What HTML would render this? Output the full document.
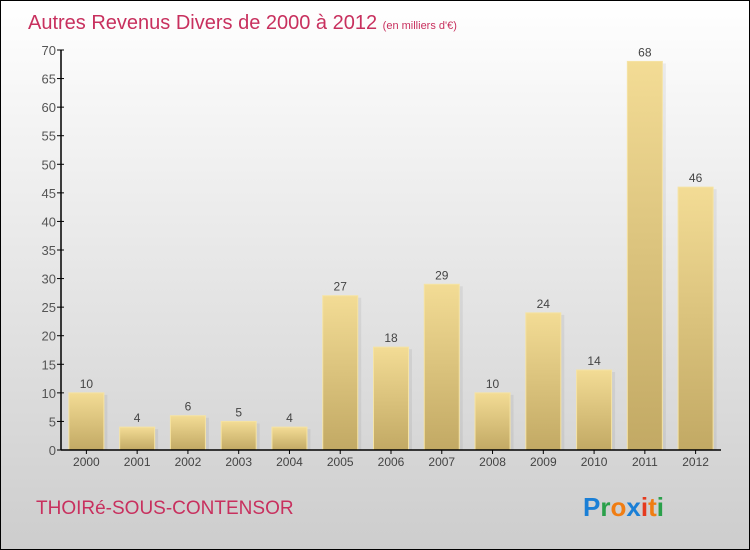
<!DOCTYPE html>
<html><head><meta charset="utf-8"><style>
html,body{margin:0;padding:0}
body{width:750px;height:550px;overflow:hidden}
svg{display:block}
</style></head><body>
<svg id="c" width="750" height="550" xmlns="http://www.w3.org/2000/svg">
<defs>
<linearGradient id="bg" x1="0" y1="0" x2="0" y2="1"><stop offset="0" stop-color="#ffffff"/><stop offset="1" stop-color="#cdcdcd"/></linearGradient>
<linearGradient id="bar" x1="0" y1="0" x2="0" y2="1"><stop offset="0" stop-color="#f3dc95"/><stop offset="1" stop-color="#c2a964"/></linearGradient>
</defs>
<rect x="0.5" y="0.5" width="749" height="549" fill="url(#bg)" stroke="#000"/>
<text x="28" y="29" font-family="'Liberation Sans',sans-serif" font-size="20" fill="#c8305e">Autres Revenus Divers de 2000 à 2012 <tspan font-size="11">(en milliers d'€)</tspan></text>
<g id="plot"></g>
<text x="36" y="514" font-family="'Liberation Sans',sans-serif" font-size="19" fill="#c8305e">THOIRé-SOUS-CONTENSOR</text>
<g font-family="'Liberation Sans',sans-serif" font-size="26" font-weight="bold">
<text x="583" y="516"><tspan fill="#1a7fd6">P</tspan><tspan fill="#2aa04a">r</tspan><tspan fill="#f07d12">o</tspan><tspan fill="#1a7fd6">x</tspan><tspan fill="#e53a1e">i</tspan><tspan fill="#f07d12">t</tspan><tspan fill="#2aa04a">i</tspan></text>
</g>
</svg>
<script>
const categories=["2000","2001","2002","2003","2004","2005","2006","2007","2008","2009","2010","2011","2012"];
const values=[10,4,6,5,4,27,18,29,10,24,14,68,46];
const yTicks=[0,5,10,15,20,25,30,35,40,45,50,55,60,65,70];
const NS="http://www.w3.org/2000/svg";
const g=document.getElementById('plot');
const x0=61,x1=721,y0=450,y1=50,yMax=70;
const band=(x1-x0)/categories.length;
const y=v=>y0-(v/yMax)*(y0-y1);
const xc=i=>x0+band*(i+0.5);
function mk(t,a){const e=document.createElementNS(NS,t);for(const k in a)e.setAttribute(k,a[k]);g.appendChild(e);return e;}
const font="'Liberation Sans',sans-serif";
values.forEach((v,i)=>{
  const r=mk('rect',{x:xc(i)-17+3,y:y(v)+2,width:35,height:y0-y(v)-2,fill:'#000','fill-opacity':0.06});
  
  
  const b=mk('rect',{x:xc(i)-17.5,y:y(v),width:35,height:y0-y(v),fill:'url(#bar)',stroke:'#f5e3a4','stroke-width':1});
  
  
  const t=mk('text',{x:xc(i),y:y(v)-5,'text-anchor':'middle','font-family':font,'font-size':12,fill:'#444'});
  t.textContent=v;
  
  
  const c=mk('text',{x:xc(i),y:466,'text-anchor':'middle','font-family':font,'font-size':12,fill:'#444'});
  c.textContent=categories[i];
  
  
  const tk=mk('line',{x1:xc(i),x2:xc(i),y1:450,y2:454,stroke:'#000'});
  
  
});
yTicks.forEach(v=>{
  const l=mk('line',{x1:57,x2:64,y1:y(v),y2:y(v),stroke:'#000'});
  
  
  const t=mk('text',{x:56,y:y(v)+5,'text-anchor':'end','font-family':font,'font-size':13,fill:'#555'});
  t.textContent=v;
  
  
});
const ya=mk('line',{x1:61,x2:61,y1:50,y2:450,stroke:'#000','stroke-width':1.5});


const xa=mk('line',{x1:61,x2:721,y1:450,y2:450,stroke:'#000','stroke-width':1.5});


</script>
</body></html>
